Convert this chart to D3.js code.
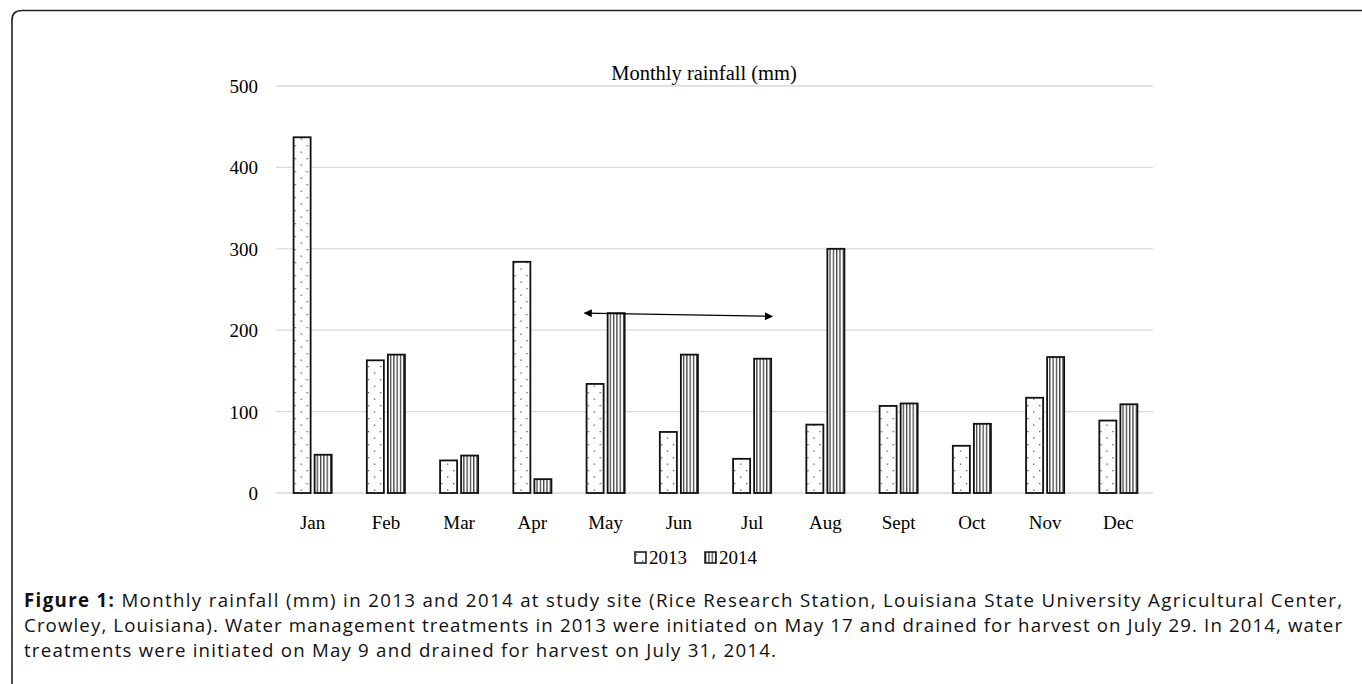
<!DOCTYPE html>
<html>
<head>
<meta charset="utf-8">
<script src="https://cdn.jsdelivr.net/npm/d3@7"></script>
<style>
  body { margin: 0; background: #fff; }
  svg { display: block; }
  .grid line { stroke: #d9d9d9; stroke-width: 1.3; }
  .tick text { font-family: "Liberation Serif", serif; font-size: 19px; fill: #000; }
</style>
</head>
<body>
<svg width="1362" height="684"></svg>
<script>
// data
const months = ["Jan", "Feb", "Mar", "Apr", "May", "Jun", "Jul", "Aug", "Sept", "Oct", "Nov", "Dec"];
const years = ["2013", "2014"];
const rain2013 = [437, 163, 40, 284, 134, 75, 42, 84, 107, 58, 117, 89];
const rain2014 = [47, 170, 46, 17, 221, 170, 165, 300, 110, 85, 167, 109];
const yTicks = [0, 100, 200, 300, 400, 500];
// treatment period arrow: from May to Jul
const arrowMonths = ["May", "Jul"];
const arrowLevels = [221, 217];
const captionLines = [
  "Monthly rainfall (mm) in 2013 and 2014 at study site (Rice Research Station, Louisiana State University Agricultural Center,",
  "Crowley, Louisiana). Water management treatments in 2013 were initiated on May 17 and drained for harvest on July 29. In 2014, water",
  "treatments were initiated on May 9 and drained for harvest on July 31, 2014."
];

const svg = d3.select("svg");

// frame
svg.append("path")
  .attr("d", "M12,700 L12,20 Q12,10.5 22,10.5 L1370,10.5")
  .attr("fill", "none")
  .attr("stroke", "#222")
  .attr("stroke-width", 1.6);

// patterns
const defs = svg.append("defs");
const dots = defs.append("pattern")
  .attr("id", "dots")
  .attr("patternUnits", "userSpaceOnUse")
  .attr("width", 12).attr("height", 13);
dots.append("rect").attr("width", 12).attr("height", 13).attr("fill", "#fff");
dots.append("rect").attr("x", 1).attr("y", 2).attr("width", 1.3).attr("height", 1.3).attr("fill", "#555");
dots.append("rect").attr("x", 7).attr("y", 8.5).attr("width", 1.3).attr("height", 1.3).attr("fill", "#555");

const stripes = defs.append("pattern")
  .attr("id", "stripes")
  .attr("patternUnits", "userSpaceOnUse")
  .attr("width", 3.3).attr("height", 10);
stripes.append("rect").attr("width", 3.3).attr("height", 10).attr("fill", "#fff");
stripes.append("rect").attr("x", 0).attr("width", 1.3).attr("height", 10).attr("fill", "#444");

const fills = { "2013": "url(#dots)", "2014": "url(#stripes)" };

// scales
const x0 = d3.scaleBand().domain(months).range([276, 1155]).paddingInner(0.48).paddingOuter(0.24);
const x1 = d3.scaleBand().domain(years).range([0, x0.bandwidth()]).paddingInner(0.19);
const y = d3.scaleLinear().domain([0, 500]).range([493, 86]);

// grid
svg.append("g").attr("class", "grid")
  .selectAll("line")
  .data(yTicks)
  .enter().append("line")
  .attr("x1", 276).attr("x2", 1153)
  .attr("y1", d => y(d)).attr("y2", d => y(d));

// y axis labels
const yAxis = svg.append("g")
  .attr("transform", "translate(258,0)")
  .call(d3.axisLeft(y).tickValues(yTicks).tickSize(0).tickPadding(0));
yAxis.select(".domain").remove();
yAxis.selectAll("text").attr("dy", "0.34em");

// x axis labels
const xAxis = svg.append("g")
  .attr("transform", "translate(0,514)")
  .call(d3.axisBottom(x0).tickSize(0).tickPadding(0));
xAxis.select(".domain").remove();
xAxis.selectAll("text").attr("dy", "0.8em");

// bars
const rows = months.map((m, i) => ({ month: m, values: [
  { year: "2013", value: rain2013[i] },
  { year: "2014", value: rain2014[i] }
]}));

svg.append("g")
  .selectAll("g")
  .data(rows)
  .enter().append("g")
  .attr("transform", d => `translate(${x0(d.month)},0)`)
  .selectAll("rect")
  .data(d => d.values)
  .enter().append("rect")
  .attr("x", d => x1(d.year))
  .attr("y", d => y(d.value))
  .attr("width", x1.bandwidth())
  .attr("height", d => y(0) - y(d.value))
  .attr("fill", d => fills[d.year])
  .attr("stroke", "#111")
  .attr("stroke-width", 1.8);

// arrow
defs.append("marker")
  .attr("id", "head")
  .attr("viewBox", "0 0 10 10")
  .attr("refX", 9).attr("refY", 5)
  .attr("markerWidth", 11).attr("markerHeight", 8)
  .attr("markerUnits", "userSpaceOnUse")
  .attr("orient", "auto-start-reverse")
  .append("path").attr("d", "M0,0 L10,5 L0,10 z").attr("fill", "#000");

svg.append("line")
  .attr("x1", x0(arrowMonths[0]) - 2)
  .attr("y1", y(arrowLevels[0]))
  .attr("x2", x0(arrowMonths[1]) + x0.bandwidth() + 1)
  .attr("y2", y(arrowLevels[1]))
  .attr("stroke", "#000")
  .attr("stroke-width", 1.2)
  .attr("marker-start", "url(#head)")
  .attr("marker-end", "url(#head)");

// title
svg.append("text")
  .attr("x", 704).attr("y", 80)
  .attr("text-anchor", "middle")
  .style("font-family", "Liberation Serif, serif")
  .style("font-size", "20.5px")
  .text("Monthly rainfall (mm)");

// legend
const legend = svg.append("g").attr("transform", "translate(635,552)");
const legItems = legend.selectAll("g")
  .data(years)
  .enter().append("g")
  .attr("transform", (d, i) => `translate(${i * 70},0)`);
legItems.append("rect")
  .attr("width", 11).attr("height", 11)
  .attr("fill", d => fills[d])
  .attr("stroke", "#111").attr("stroke-width", 1.5);
legItems.append("text")
  .attr("x", 14).attr("y", 12)
  .style("font-family", "Liberation Serif, serif")
  .style("font-size", "19px")
  .text(d => d);

// caption: font sized from the last line's width, lines stretched to fit
const cap = svg.append("g")
  .style("font-family", "Open Sans, sans-serif")
  .style("font-size", "16px")
  .attr("fill", "#111");
const probe = cap.append("text").text(captionLines[2]);
const fs = 0.88 * 16 * 752 / probe.node().getComputedTextLength();
probe.remove();
cap.style("font-size", fs + "px");
const capWidths = [1318, 1318, 752];
captionLines.forEach((line, i) => {
  const t = cap.append("text")
    .attr("x", 24).attr("y", 607 + i * 25)
    .attr("textLength", capWidths[i])
    .attr("lengthAdjust", "spacing");
  if (i === 0) t.append("tspan").style("font-weight", "bold").text("Figure 1: ");
  t.append("tspan").text(line);
});
</script>
</body>
</html>
